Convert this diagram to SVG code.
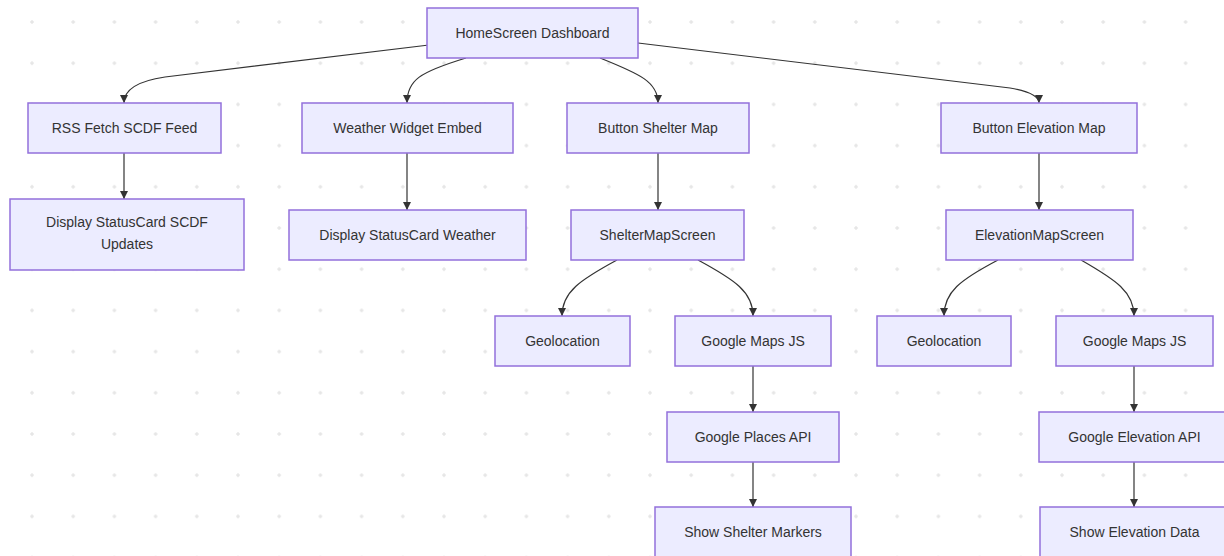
<svg xmlns="http://www.w3.org/2000/svg" width="1224" height="556" viewBox="0 0 1224 556">
<style>
.n rect{fill:#ECECFF;stroke:#9370DB;stroke-width:1.5}
.n text{font-family:"Liberation Sans","Open Sans",Arial,sans-serif;font-size:14px;fill:#333;text-anchor:middle;dominant-baseline:central}
.e path{fill:none;stroke:#333;stroke-width:1.2;marker-end:url(#ah)}
</style>
<defs>
<pattern id="dots" x="32" y="22" width="41.2" height="41.2" patternUnits="userSpaceOnUse">
<path d="M0,-2.2 L2.2,0 L0,2.2 L-2.2,0Z" fill="#e6e6e6"/>
<path d="M41.2,-2.2 L43.4,0 L41.2,2.2 L39,0Z" fill="#e6e6e6"/>
<path d="M0,39 L2.2,41.2 L0,43.4 L-2.2,41.2Z" fill="#e6e6e6"/>
<path d="M41.2,39 L43.4,41.2 L41.2,43.4 L39,41.2Z" fill="#e6e6e6"/>
</pattern>
<marker id="ah" viewBox="0 0 10 10" refX="10" refY="5" markerWidth="8" markerHeight="8" markerUnits="userSpaceOnUse" orient="auto">
<path d="M0,0 L10,5 L0,10Z" fill="#333"/>
</marker>
</defs>
<rect width="1224" height="556" fill="#fff"/>
<rect width="1224" height="556" fill="url(#dots)"/>
<g class="e" id="edges">
<path d="M429,45 L165,77 Q124,83 124,103"/>
<path d="M466,58 C420,72 407,80 407,103"/>
<path d="M600,58 C640,74 658,82 658,103"/>
<path d="M638,43 L1010,88 Q1039,93 1039,103"/>
<path d="M124,153 L124,199"/>
<path d="M407,153 L407,210"/>
<path d="M658,153 L658,210"/>
<path d="M1039,153 L1039,210"/>
<path d="M617,260 C580,280 562,292 562,316"/>
<path d="M698,260 C735,280 753,292 753,316"/>
<path d="M753,366 L753,412"/>
<path d="M753,462 L753,507"/>
<path d="M998,260 C960,280 944,292 944,316"/>
<path d="M1081,260 C1116,280 1134,292 1134,316"/>
<path d="M1134,366 L1134,412"/>
<path d="M1134,462 L1134,507"/>
</g>
<g class="n" id="home"><rect x="427" y="8" width="211" height="50"/><text x="532.5" y="33">HomeScreen Dashboard</text></g>
<g class="n" id="rss"><rect x="28" y="103" width="193" height="50"/><text x="124.5" y="128">RSS Fetch SCDF Feed</text></g>
<g class="n" id="scdf"><rect x="10" y="199" width="234" height="71"/><text x="127" y="222">Display StatusCard SCDF</text><text x="127" y="244">Updates</text></g>
<g class="n" id="weather"><rect x="302" y="103" width="211" height="50"/><text x="407.5" y="128">Weather Widget Embed</text></g>
<g class="n" id="weathercard"><rect x="289" y="210" width="237" height="50"/><text x="407.5" y="235">Display StatusCard Weather</text></g>
<g class="n" id="btnshelter"><rect x="567" y="103" width="182" height="50"/><text x="658" y="128">Button Shelter Map</text></g>
<g class="n" id="sheltermap"><rect x="571" y="210" width="173" height="50"/><text x="657.5" y="235">ShelterMapScreen</text></g>
<g class="n" id="btnelev"><rect x="941" y="103" width="196" height="50"/><text x="1039" y="128">Button Elevation Map</text></g>
<g class="n" id="elevmap"><rect x="946" y="210" width="187" height="50"/><text x="1039.5" y="235">ElevationMapScreen</text></g>
<g class="n" id="geo1"><rect x="495" y="316" width="135" height="50"/><text x="562.5" y="341">Geolocation</text></g>
<g class="n" id="maps1"><rect x="675" y="316" width="156" height="50"/><text x="753" y="341">Google Maps JS</text></g>
<g class="n" id="places"><rect x="667" y="412" width="172" height="50"/><text x="753" y="437">Google Places API</text></g>
<g class="n" id="markers"><rect x="655" y="507" width="196" height="50"/><text x="753" y="532">Show Shelter Markers</text></g>
<g class="n" id="geo2"><rect x="877" y="316" width="134" height="50"/><text x="944" y="341">Geolocation</text></g>
<g class="n" id="maps2"><rect x="1056" y="316" width="157" height="50"/><text x="1134.5" y="341">Google Maps JS</text></g>
<g class="n" id="elevapi"><rect x="1039" y="412" width="191" height="50"/><text x="1134.5" y="437">Google Elevation API</text></g>
<g class="n" id="elevdata"><rect x="1040" y="507" width="189" height="50"/><text x="1134.5" y="532">Show Elevation Data</text></g>
</svg>
